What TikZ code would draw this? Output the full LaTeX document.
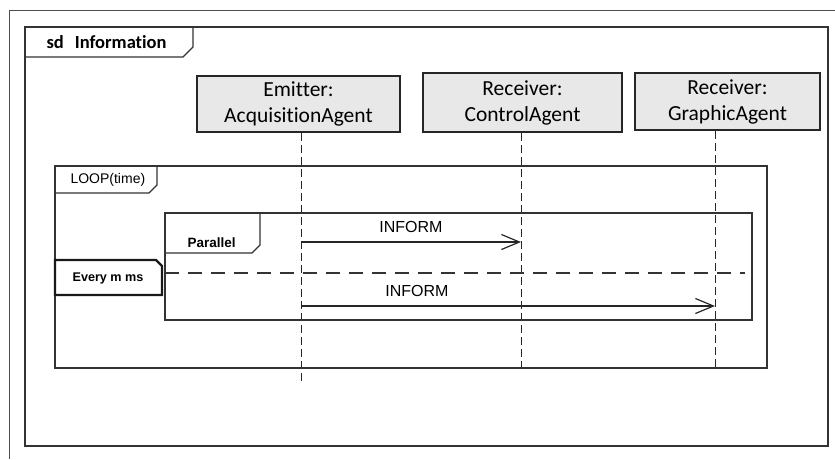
\documentclass[tikz,border=0pt]{standalone}
\usepackage{fontspec}
\setmainfont{Liberation Sans}
\newfontfamily\calib[Ligatures=NoCommon]{Carlito}
\usetikzlibrary{arrows.meta,positioning}

\begin{document}
\begin{tikzpicture}[x=1pt, y=-1pt,
  linea/.style={draw=black!80, line width=1.2pt},
  cabeza/.style={rectangle, draw=black!85, line width=2.2pt, fill=black!9, align=center,
                 font=\calib\fontsize{21.5}{26}\selectfont, inner sep=0pt},
  vida/.style={draw=black!85, line width=1pt, dash pattern=on 8pt off 4pt},
  msg/.style={draw=black!85, line width=1.2pt,
              -{Straight Barb[length=18pt, width=15pt, line width=1.2pt]}},
  etiq/.style={font=\fontsize{16}{18}\selectfont, inner sep=0pt}]
\useasboundingbox (0,0) rectangle (835,459);
% marco del escaneo
\draw[line width=1pt, black!70] (9,459) -- (9,10) -- (835,10);
% marco sd
\draw[linea] (25,27) rectangle (828,446);
\draw[linea] (25,57) -- (183,57) -- (193,47) -- (193,27);
\node[anchor=west, font=\calib\bfseries\fontsize{18.5}{20}\selectfont](sd) at (43,42){sd\hspace{11pt}Information};
% cabezas
\node[cabeza, minimum width=203pt, minimum height=56pt](em) at (298.5,104){Emitter:\\AcquisitionAgent};
\node[cabeza, minimum width=199pt, minimum height=59pt](ca) at (522.5,102.5){Receiver:\\ControlAgent};
\node[cabeza, minimum width=185pt, minimum height=57pt](ga) at (727.5,101.5){Receiver:\\GraphicAgent};
% lineas de vida
\coordinate (emFin) at (301,382);
\coordinate (caFin) at (521,368);
\coordinate (gaFin) at (715,368);
\draw[vida](em.south -| emFin)--(emFin);
\draw[vida](ca.south -| caFin)--(caFin);
\draw[vida](ga.south -| gaFin)--(gaFin);
% LOOP
\draw[linea] (55,166) rectangle (767,368);
\draw[linea] (55,193) -- (149,193) -- (157,185) -- (157,166);
\node[anchor=west, font=\fontsize{14}{16}\selectfont](loop) at (67,180){LOOP(time)};
% Parallel
\draw[linea] (165,213) rectangle (752,320);
\draw[linea] (165,253) -- (252,253) -- (260,245) -- (260,213);
\node[anchor=west, font=\bfseries\fontsize{13.5}{15}\selectfont](par) at (184,243){Parallel};
\draw[linea, dash pattern=on 14pt off 9pt] (165,273) -- (745,273);
% Every m ms
\draw[line width=2.2pt, draw=black!90] (55,260) -- (156,260) -- (162,266) -- (162,295) -- (55,295) -- cycle;
\node[font=\bfseries\fontsize{12.6}{14}\selectfont](every) at (108,278){Every m ms};
% mensajes
\coordinate (i1a) at (301,242);
\coordinate (i1b) at (521,242);
\coordinate (i2a) at (301,306);
\coordinate (i2b) at (715,306);
\draw[msg](i1a)--(i1b) node[etiq, midway, above=9pt]{INFORM};
\draw[msg](i2a)--(i2b) node[etiq, pos=0.28, above=9pt]{INFORM};
\end{tikzpicture}
\end{document}
